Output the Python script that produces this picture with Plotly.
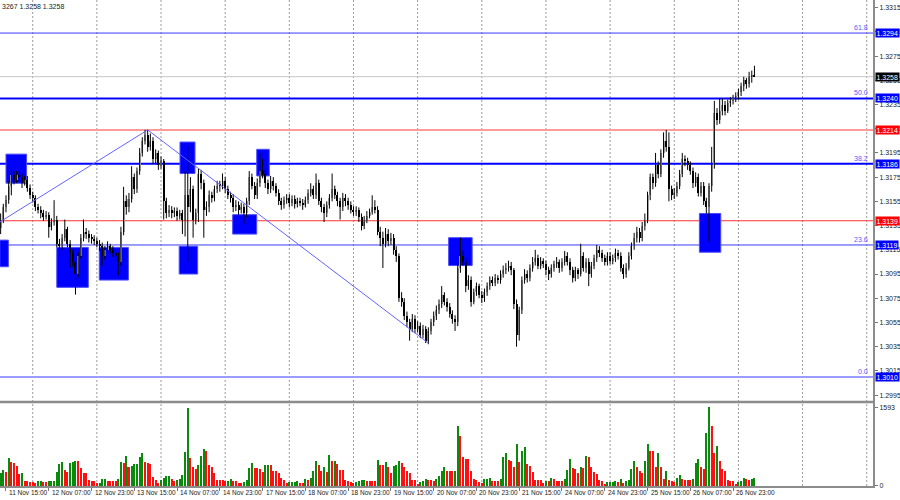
import plotly.graph_objects as go

# ---------------- data (H1 bars, first bar index -2, bar 0 = 11 Nov 15:00) ----------------
first_bar = -2

opens = [
 1.3133, 1.3140, 1.3150, 1.3156, 1.3168, 1.3177, 1.3173, 1.3177, 1.3175, 1.3170,
 1.3173, 1.3166, 1.3160, 1.3158, 1.3150, 1.3148, 1.3145, 1.3142, 1.3144, 1.3134,
 1.3138, 1.3140, 1.3120, 1.3118, 1.3125, 1.3132, 1.3120, 1.3112, 1.3105, 1.3095,
 1.3110, 1.3125, 1.3130, 1.3128, 1.3125, 1.3124, 1.3122, 1.3120, 1.3118, 1.3110,
 1.3115, 1.3118, 1.3115, 1.3112, 1.3110, 1.3105, 1.3130, 1.3155, 1.3150, 1.3157,
 1.3175, 1.3165, 1.3180, 1.3195, 1.3205, 1.3210, 1.3200, 1.3205, 1.3190, 1.3195,
 1.3185, 1.3188, 1.3155, 1.3145, 1.3148, 1.3145, 1.3147, 1.3143, 1.3145, 1.3140,
 1.3160, 1.3150, 1.3165, 1.3140, 1.3145, 1.3178, 1.3170, 1.3148, 1.3150, 1.3160,
 1.3158, 1.3165, 1.3168, 1.3168, 1.3172, 1.3165, 1.3160, 1.3158, 1.3150, 1.3152,
 1.3148, 1.3150, 1.3145, 1.3155, 1.3175, 1.3168, 1.3160, 1.3170, 1.3180, 1.3178,
 1.3170, 1.3165, 1.3172, 1.3168, 1.3162, 1.3155, 1.3152, 1.3156, 1.3158, 1.3154,
 1.3157, 1.3153, 1.3155, 1.3154, 1.3152, 1.3156, 1.3162, 1.3165, 1.3160, 1.3170,
 1.3155, 1.3150, 1.3145, 1.3152, 1.3158, 1.3165, 1.3160, 1.3155, 1.3150, 1.3158,
 1.3155, 1.3152, 1.3148, 1.3146, 1.3148, 1.3142, 1.3135, 1.3140, 1.3143, 1.3146,
 1.3150, 1.3148, 1.3130, 1.3125, 1.3120, 1.3128, 1.3122, 1.3125, 1.3115, 1.3110,
 1.3075, 1.3072, 1.3060, 1.3055, 1.3050, 1.3058, 1.3050, 1.3052, 1.3045, 1.3050,
 1.3040, 1.3048, 1.3055, 1.3060, 1.3065, 1.3070, 1.3078, 1.3072, 1.3068, 1.3062,
 1.3058, 1.3055, 1.3100, 1.3110, 1.3105, 1.3085, 1.3090, 1.3072, 1.3080, 1.3085,
 1.3078, 1.3075, 1.3080, 1.3085, 1.3090, 1.3088, 1.3092, 1.3090, 1.3095, 1.3098,
 1.3100, 1.3102, 1.3098, 1.3070, 1.3045, 1.3065, 1.3090, 1.3095, 1.3092, 1.3100,
 1.3105, 1.3108, 1.3102, 1.3106, 1.3103, 1.3098, 1.3095, 1.3100, 1.3103, 1.3105,
 1.3100, 1.3105, 1.3110, 1.3105, 1.3098, 1.3092, 1.3098, 1.3095, 1.3110, 1.3100,
 1.3105, 1.3095, 1.3102, 1.3108, 1.3115, 1.3112, 1.3108, 1.3105, 1.3110, 1.3106,
 1.3108, 1.3112, 1.3110, 1.3100, 1.3095, 1.3100, 1.3110, 1.3118, 1.3125, 1.3130,
 1.3125, 1.3135, 1.3140, 1.3160, 1.3175, 1.3170, 1.3185, 1.3178, 1.3195, 1.3205,
 1.3200, 1.3165, 1.3160, 1.3162, 1.3168, 1.3178, 1.3190, 1.3188, 1.3185, 1.3180,
 1.3170, 1.3175, 1.3162, 1.3168, 1.3155, 1.3150, 1.3168, 1.3185, 1.3228, 1.3222,
 1.3230, 1.3235, 1.3230, 1.3236, 1.3238, 1.3240, 1.3242, 1.3245, 1.3250, 1.3255,
 1.3252, 1.3258, 1.3259,
]

highs = [
 1.3145, 1.3153, 1.3160, 1.3172, 1.3183, 1.3180, 1.3180, 1.3180, 1.3178, 1.3176,
 1.3176, 1.3169, 1.3163, 1.3160, 1.3153, 1.3151, 1.3148, 1.3147, 1.3146, 1.3141,
 1.3156, 1.3143, 1.3124, 1.3128, 1.3140, 1.3134, 1.3123, 1.3115, 1.3108, 1.3113,
 1.3128, 1.3140, 1.3133, 1.3131, 1.3128, 1.3127, 1.3125, 1.3123, 1.3121, 1.3118,
 1.3122, 1.3120, 1.3118, 1.3115, 1.3113, 1.3134, 1.3167, 1.3160, 1.3162, 1.3184,
 1.3178, 1.3183, 1.3199, 1.3208, 1.3214, 1.3214, 1.3211, 1.3208, 1.3198, 1.3197,
 1.3192, 1.3190, 1.3158, 1.3152, 1.3151, 1.3150, 1.3150, 1.3148, 1.3148, 1.3180,
 1.3200, 1.3175, 1.3168, 1.3149, 1.3182, 1.3181, 1.3173, 1.3155, 1.3164, 1.3163,
 1.3168, 1.3172, 1.3172, 1.3178, 1.3175, 1.3168, 1.3163, 1.3161, 1.3156, 1.3155,
 1.3154, 1.3153, 1.3158, 1.3180, 1.3178, 1.3171, 1.3174, 1.3195, 1.3190, 1.3181,
 1.3173, 1.3176, 1.3175, 1.3170, 1.3165, 1.3158, 1.3159, 1.3161, 1.3161, 1.3160,
 1.3160, 1.3158, 1.3158, 1.3157, 1.3159, 1.3165, 1.3170, 1.3168, 1.3178, 1.3173,
 1.3158, 1.3153, 1.3155, 1.3161, 1.3178, 1.3168, 1.3163, 1.3158, 1.3162, 1.3161,
 1.3158, 1.3155, 1.3151, 1.3151, 1.3150, 1.3145, 1.3143, 1.3147, 1.3149, 1.3160,
 1.3156, 1.3151, 1.3134, 1.3130, 1.3133, 1.3132, 1.3129, 1.3128, 1.3118, 1.3112,
 1.3080, 1.3075, 1.3064, 1.3058, 1.3062, 1.3061, 1.3056, 1.3055, 1.3053, 1.3052,
 1.3051, 1.3058, 1.3064, 1.3069, 1.3074, 1.3085, 1.3080, 1.3075, 1.3071, 1.3065,
 1.3061, 1.3104, 1.3125, 1.3114, 1.3108, 1.3094, 1.3093, 1.3083, 1.3088, 1.3087,
 1.3081, 1.3083, 1.3088, 1.3093, 1.3093, 1.3095, 1.3094, 1.3098, 1.3102, 1.3104,
 1.3106, 1.3105, 1.3100, 1.3074, 1.3068, 1.3093, 1.3099, 1.3098, 1.3103, 1.3109,
 1.3115, 1.3111, 1.3109, 1.3108, 1.3106, 1.3101, 1.3103, 1.3106, 1.3109, 1.3107,
 1.3108, 1.3114, 1.3113, 1.3108, 1.3101, 1.3101, 1.3100, 1.3120, 1.3113, 1.3108,
 1.3108, 1.3105, 1.3111, 1.3119, 1.3118, 1.3115, 1.3111, 1.3113, 1.3113, 1.3111,
 1.3116, 1.3115, 1.3113, 1.3103, 1.3104, 1.3113, 1.3121, 1.3129, 1.3134, 1.3133,
 1.3138, 1.3145, 1.3163, 1.3178, 1.3178, 1.3195, 1.3188, 1.3198, 1.3212, 1.3214,
 1.3212, 1.3168, 1.3166, 1.3171, 1.3181, 1.3195, 1.3193, 1.3191, 1.3188, 1.3183,
 1.3179, 1.3178, 1.3171, 1.3171, 1.3158, 1.3170, 1.3200, 1.3238, 1.3232, 1.3240,
 1.3240, 1.3238, 1.3239, 1.3241, 1.3243, 1.3245, 1.3248, 1.3253, 1.3258, 1.3257,
 1.3262, 1.3263, 1.3267,
]

lows = [
 1.3128, 1.3137, 1.3146, 1.3153, 1.3160, 1.3169, 1.3170, 1.3171, 1.3166, 1.3168,
 1.3163, 1.3157, 1.3154, 1.3147, 1.3145, 1.3141, 1.3139, 1.3140, 1.3125, 1.3131,
 1.3135, 1.3117, 1.3110, 1.3115, 1.3122, 1.3117, 1.3100, 1.3101, 1.3078, 1.3092,
 1.3108, 1.3122, 1.3124, 1.3121, 1.3120, 1.3119, 1.3117, 1.3114, 1.3102, 1.3107,
 1.3112, 1.3112, 1.3109, 1.3106, 1.3094, 1.3102, 1.3127, 1.3144, 1.3146, 1.3154,
 1.3161, 1.3162, 1.3177, 1.3192, 1.3202, 1.3196, 1.3197, 1.3186, 1.3186, 1.3181,
 1.3182, 1.3140, 1.3141, 1.3142, 1.3141, 1.3142, 1.3139, 1.3140, 1.3128, 1.3126,
 1.3105, 1.3146, 1.3125, 1.3136, 1.3138, 1.3165, 1.3125, 1.3143, 1.3146, 1.3154,
 1.3155, 1.3162, 1.3163, 1.3165, 1.3162, 1.3157, 1.3154, 1.3146, 1.3147, 1.3144,
 1.3145, 1.3136, 1.3142, 1.3152, 1.3165, 1.3157, 1.3157, 1.3167, 1.3174, 1.3166,
 1.3161, 1.3162, 1.3164, 1.3159, 1.3152, 1.3148, 1.3149, 1.3153, 1.3150, 1.3151,
 1.3149, 1.3150, 1.3151, 1.3148, 1.3150, 1.3153, 1.3159, 1.3157, 1.3157, 1.3152,
 1.3146, 1.3138, 1.3142, 1.3149, 1.3155, 1.3157, 1.3151, 1.3140, 1.3147, 1.3151,
 1.3148, 1.3145, 1.3143, 1.3143, 1.3138, 1.3131, 1.3132, 1.3137, 1.3141, 1.3144,
 1.3145, 1.3127, 1.3118, 1.3100, 1.3117, 1.3118, 1.3119, 1.3111, 1.3105, 1.3072,
 1.3068, 1.3057, 1.3051, 1.3040, 1.3047, 1.3046, 1.3047, 1.3042, 1.3042, 1.3038,
 1.3037, 1.3045, 1.3052, 1.3057, 1.3062, 1.3067, 1.3069, 1.3064, 1.3059, 1.3054,
 1.3048, 1.3052, 1.3096, 1.3102, 1.3080, 1.3082, 1.3068, 1.3070, 1.3077, 1.3075,
 1.3071, 1.3072, 1.3077, 1.3082, 1.3085, 1.3085, 1.3087, 1.3087, 1.3092, 1.3095,
 1.3097, 1.3094, 1.3066, 1.3035, 1.3040, 1.3062, 1.3087, 1.3088, 1.3089, 1.3097,
 1.3102, 1.3099, 1.3099, 1.3100, 1.3094, 1.3090, 1.3092, 1.3097, 1.3100, 1.3096,
 1.3097, 1.3102, 1.3102, 1.3094, 1.3088, 1.3089, 1.3091, 1.3093, 1.3097, 1.3096,
 1.3085, 1.3092, 1.3099, 1.3105, 1.3109, 1.3105, 1.3102, 1.3102, 1.3103, 1.3103,
 1.3105, 1.3107, 1.3097, 1.3091, 1.3092, 1.3098, 1.3107, 1.3115, 1.3121, 1.3121,
 1.3122, 1.3131, 1.3137, 1.3156, 1.3165, 1.3167, 1.3174, 1.3175, 1.3191, 1.3196,
 1.3155, 1.3156, 1.3157, 1.3159, 1.3165, 1.3175, 1.3184, 1.3181, 1.3177, 1.3166,
 1.3167, 1.3159, 1.3159, 1.3152, 1.3145, 1.3122, 1.3163, 1.3182, 1.3218, 1.3219,
 1.3226, 1.3226, 1.3228, 1.3233, 1.3235, 1.3237, 1.3239, 1.3242, 1.3246, 1.3248,
 1.3249, 1.3253, 1.3258,
]

closes = [
 1.3140, 1.3150, 1.3156, 1.3168, 1.3177, 1.3173, 1.3177, 1.3175, 1.3170, 1.3173,
 1.3166, 1.3160, 1.3158, 1.3150, 1.3148, 1.3145, 1.3142, 1.3144, 1.3134, 1.3138,
 1.3140, 1.3120, 1.3118, 1.3125, 1.3132, 1.3120, 1.3112, 1.3105, 1.3095, 1.3110,
 1.3125, 1.3130, 1.3128, 1.3125, 1.3124, 1.3122, 1.3120, 1.3118, 1.3110, 1.3115,
 1.3118, 1.3115, 1.3112, 1.3110, 1.3105, 1.3130, 1.3155, 1.3150, 1.3157, 1.3175,
 1.3165, 1.3180, 1.3195, 1.3205, 1.3210, 1.3200, 1.3205, 1.3190, 1.3195, 1.3185,
 1.3188, 1.3155, 1.3145, 1.3148, 1.3145, 1.3147, 1.3143, 1.3145, 1.3140, 1.3160,
 1.3150, 1.3165, 1.3140, 1.3145, 1.3178, 1.3170, 1.3148, 1.3150, 1.3160, 1.3158,
 1.3165, 1.3168, 1.3168, 1.3172, 1.3165, 1.3160, 1.3158, 1.3150, 1.3152, 1.3148,
 1.3150, 1.3145, 1.3155, 1.3175, 1.3168, 1.3160, 1.3170, 1.3180, 1.3178, 1.3170,
 1.3165, 1.3172, 1.3168, 1.3162, 1.3155, 1.3152, 1.3156, 1.3158, 1.3154, 1.3157,
 1.3153, 1.3155, 1.3154, 1.3152, 1.3156, 1.3162, 1.3165, 1.3160, 1.3170, 1.3155,
 1.3150, 1.3145, 1.3152, 1.3158, 1.3165, 1.3160, 1.3155, 1.3150, 1.3158, 1.3155,
 1.3152, 1.3148, 1.3146, 1.3148, 1.3142, 1.3135, 1.3140, 1.3143, 1.3146, 1.3150,
 1.3148, 1.3130, 1.3125, 1.3120, 1.3128, 1.3122, 1.3125, 1.3115, 1.3110, 1.3075,
 1.3072, 1.3060, 1.3055, 1.3050, 1.3058, 1.3050, 1.3052, 1.3045, 1.3050, 1.3040,
 1.3048, 1.3055, 1.3060, 1.3065, 1.3070, 1.3078, 1.3072, 1.3068, 1.3062, 1.3058,
 1.3055, 1.3100, 1.3110, 1.3105, 1.3085, 1.3090, 1.3072, 1.3080, 1.3085, 1.3078,
 1.3075, 1.3080, 1.3085, 1.3090, 1.3088, 1.3092, 1.3090, 1.3095, 1.3098, 1.3100,
 1.3102, 1.3098, 1.3070, 1.3045, 1.3065, 1.3090, 1.3095, 1.3092, 1.3100, 1.3105,
 1.3108, 1.3102, 1.3106, 1.3103, 1.3098, 1.3095, 1.3100, 1.3103, 1.3105, 1.3100,
 1.3105, 1.3110, 1.3105, 1.3098, 1.3092, 1.3098, 1.3095, 1.3110, 1.3100, 1.3105,
 1.3095, 1.3102, 1.3108, 1.3115, 1.3112, 1.3108, 1.3105, 1.3110, 1.3106, 1.3108,
 1.3112, 1.3110, 1.3100, 1.3095, 1.3100, 1.3110, 1.3118, 1.3125, 1.3130, 1.3125,
 1.3135, 1.3140, 1.3160, 1.3175, 1.3170, 1.3185, 1.3178, 1.3195, 1.3205, 1.3200,
 1.3165, 1.3160, 1.3162, 1.3168, 1.3178, 1.3190, 1.3188, 1.3185, 1.3180, 1.3170,
 1.3175, 1.3162, 1.3168, 1.3155, 1.3150, 1.3168, 1.3185, 1.3228, 1.3222, 1.3230,
 1.3235, 1.3230, 1.3236, 1.3238, 1.3240, 1.3242, 1.3245, 1.3250, 1.3255, 1.3252,
 1.3258, 1.3259, 1.3258,
]

volumes = [
 257, 324, 290, 560, 479, 470, 412, 236, 270, 108,
 105, 81, 80, 68, 108, 110, 74, 72, 101, 103,
 108, 290, 446, 493, 324, 290, 459, 479, 513, 510,
 371, 270, 257, 122, 95, 94, 54, 68, 135, 149,
 108, 107, 106, 105, 149, 486, 473, 608, 392, 405,
 446, 448, 594, 662, 486, 459, 446, 176, 122, 68,
 122, 169, 203, 205, 135, 108, 122, 135, 223, 695,
 1585, 560, 392, 344, 425, 608, 743, 709, 432, 392,
 270, 122, 120, 118, 95, 108, 135, 95, 93, 68,
 54, 81, 122, 358, 459, 365, 362, 351, 290, 419,
 432, 430, 297, 295, 257, 155, 122, 68, 88, 89,
 90, 91, 68, 67, 149, 122, 162, 311, 513, 425,
 297, 378, 290, 621, 513, 515, 446, 324, 322, 122,
 108, 88, 54, 81, 95, 122, 123, 108, 107, 106,
 105, 527, 425, 423, 479, 392, 270, 405, 419, 506,
 473, 392, 311, 257, 122, 120, 41, 81, 108, 135,
 122, 120, 108, 135, 203, 304, 378, 304, 304,
 304, 306, 1215, 1013, 581, 554, 547, 304, 149, 122,
 88, 54, 135, 142, 155, 108, 107, 106, 135, 581,
 662, 527, 513, 392, 844, 493, 716, 797, 446, 405,
 284, 122, 120, 119, 68, 95, 94, 155, 135, 108,
 107, 106, 149, 324, 540, 358, 344, 270, 392, 365,
 608, 594, 378, 284, 243, 122, 95, 41, 81, 82,
 83, 95, 81, 135, 68, 108, 122, 351, 513, 378,
 311, 257, 513, 844, 716, 715, 392, 662, 378, 135,
 297, 122, 95, 81, 162, 223, 135, 122, 121, 120,
 149, 473, 540, 392, 338, 1080, 1593, 1215, 662, 810,
 513, 338, 311, 122, 108, 95, 41, 81, 108, 162,
 135, 122, 135, 155,
]

date_labels = ["11 Nov 15:00", "12 Nov 07:00", "12 Nov 23:00", "13 Nov 15:00",
               "14 Nov 07:00", "14 Nov 23:00", "17 Nov 15:00", "18 Nov 07:00",
               "18 Nov 23:00", "19 Nov 15:00", "20 Nov 07:00", "20 Nov 23:00",
               "21 Nov 15:00", "24 Nov 07:00", "24 Nov 23:00", "25 Nov 15:00",
               "26 Nov 07:00", "26 Nov 23:00"]
date_label_bars = [0, 16, 32, 48, 64, 80, 96, 112, 128, 144, 160, 176, 192, 208,
                   224, 240, 256, 272]

price_ticks = [1.2995, 1.3015, 1.3035, 1.3055, 1.3075, 1.3095, 1.3115, 1.3135, 1.3155,
               1.3175, 1.3195, 1.3215, 1.3235, 1.3255, 1.3275, 1.3295, 1.3315]

# horizontal levels: (price, line colour, width, fib label, box colour)
levels = [
    (1.3294, "#3a3aff", 1, "61.8", "#0000ff"),
    (1.3258, "#c8c8c8", 1, "", "#000000"),
    (1.3240, "#0000ff", 2, "50.0", "#0000ff"),
    (1.3214, "#ff9a9a", 2, "", "#ff0000"),
    (1.3186, "#0000ff", 2, "38.2", "#0000ff"),
    (1.3139, "#ff3030", 1, "", "#ff0000"),
    (1.3119, "#3a3aff", 1, "23.6", "#0000ff"),
    (1.3010, "#9a9aff", 2, "0.0", "#0000ff"),
]

# blue zones: (bar from, bar to, price low, price high)
zones = [
    (0.0, 7.7, 1.3170, 1.3194),
    (65.1, 70.7, 1.3178, 1.3204),
    (93.8, 98.5, 1.3176, 1.3198),
    (-2.3, 0.9, 1.3101, 1.3123),
    (19.0, 30.8, 1.3084, 1.3117),
    (34.9, 45.8, 1.3090, 1.3117),
    (64.8, 71.7, 1.3095, 1.3118),
    (84.8, 93.8, 1.3128, 1.3144),
    (165.6, 174.4, 1.3102, 1.3125),
    (259.4, 267.4, 1.3113, 1.3145),
]

zigzag_bars = [-2.3, 53.0, 158.0]
zigzag_prices = [1.3138, 1.3214, 1.3038]

# ---------------- build figure ----------------
n = len(closes)
bars = list(range(first_bar, first_bar + n))

wick_x, wick_y = [], []
for b, h, l in zip(bars, highs, lows):
    wick_x += [b, b, None]
    wick_y += [l, h, None]

body_base = [min(o, c) for o, c in zip(opens, closes)]
body_h = [max(abs(c - o), 0.00009) for o, c in zip(opens, closes)]
body_col = ["#a4a4a4" if c > o else "#000000" for o, c in zip(opens, closes)]

vol_col = []
for i, v in enumerate(volumes):
    vol_col.append("#0a8a0a" if (i == 0 or v > volumes[i - 1]) else "#ff1010")

fig = go.Figure()
fig.add_trace(go.Scatter(x=wick_x, y=wick_y, mode="lines",
                         line=dict(color="#000000", width=1), xaxis="x", yaxis="y",
                         hoverinfo="skip"))
fig.add_trace(go.Bar(x=bars, y=body_h, base=body_base, width=0.75,
                     marker=dict(color=body_col, line=dict(width=0)),
                     xaxis="x", yaxis="y", hoverinfo="skip"))
fig.add_trace(go.Scatter(x=zigzag_bars, y=zigzag_prices, mode="lines",
                         line=dict(color="#6464ff", width=1), xaxis="x", yaxis="y",
                         hoverinfo="skip"))
fig.add_trace(go.Bar(x=bars, y=volumes, width=0.75,
                     marker=dict(color=vol_col, line=dict(width=0)),
                     xaxis="x2", yaxis="y2", hoverinfo="skip"))

x_range = [-2.24, 324.35]
split = 0.1728
shapes = []
# vertical dotted grid
for g in range(10, 325, 24):
    shapes.append(dict(type="line", xref="x", yref="paper", x0=g, x1=g, y0=0, y1=1,
                       line=dict(color="#9a9a9a", width=1, dash="2px,2px"), layer="below"))
for (b0, b1, p0, p1) in zones:
    shapes.append(dict(type="rect", xref="x", yref="y", x0=b0, x1=b1, y0=p0, y1=p1,
                       fillcolor="#0000ff", line=dict(color="#4c4cff", width=1),
                       layer="between"))
for (p, col, w, lab, box) in levels:
    shapes.append(dict(type="line", xref="paper", yref="y", x0=0, x1=1, y0=p, y1=p,
                       line=dict(color=col, width=w), layer="between"))
# panel separator
shapes.append(dict(type="line", xref="paper", yref="paper", x0=0, x1=1, y0=split, y1=split,
                   line=dict(color="#8c8c8c", width=2.5)))

annotations = []
font_small = dict(family="Liberation Sans", size=7, color="#222222")
for (p, col, w, lab, box) in levels:
    annotations.append(dict(xref="paper", yref="y", x=1, y=p, xanchor="left", yanchor="middle",
                            xshift=2, text="%.4f" % p, showarrow=False, bgcolor=box,
                            borderpad=0.5,
                            font=dict(family="Liberation Sans", size=7, color="#ffffff")))
    if lab:
        annotations.append(dict(xref="paper", yref="y", x=0.9966, y=p, xanchor="right",
                                yanchor="bottom", text=lab, showarrow=False,
                                font=dict(family="Liberation Sans", size=7, color="#5a5aff")))
for b, t in zip(date_label_bars, date_labels):
    annotations.append(dict(xref="x2", yref="paper", x=b, y=0, xanchor="left", yanchor="top",
                            xshift=1, yshift=-1, text=t, showarrow=False,
                            font=dict(family="Liberation Sans", size=6.5, color="#222222")))
annotations.append(dict(xref="paper", yref="paper", x=0, y=1, xanchor="left", yanchor="top",
                        yshift=-1, text="3267 1.3258 1.3258", showarrow=False,
                        font=font_small))

fig.update_layout(
    width=900, height=500,
    margin=dict(l=0, r=27, t=0, b=14),
    paper_bgcolor="#ffffff", plot_bgcolor="#ffffff",
    showlegend=False, bargap=0, hovermode=False,
    shapes=shapes, annotations=annotations,
    xaxis=dict(domain=[0, 1], range=x_range, anchor="y", showgrid=False,
               showticklabels=False, zeroline=False, ticks=""),
    xaxis2=dict(domain=[0, 1], range=x_range, anchor="y2", matches="x", showgrid=False,
                zeroline=False, tickmode="array", tickvals=date_label_bars,
                showticklabels=False, ticks="outside", ticklen=3, tickcolor="#777777",
                showline=True, linecolor="#8c8c8c", linewidth=2),
    yaxis=dict(domain=[split, 1], range=[1.29893, 1.33213], side="right", anchor="x",
               showgrid=False, zeroline=False, tickmode="array", tickvals=price_ticks,
               tickformat=".4f", ticks="outside", ticklen=3, tickcolor="#777777",
               tickfont=font_small, showline=True, linecolor="#8c8c8c", linewidth=2,
               automargin=False),
    yaxis2=dict(domain=[0, split], range=[0, 1700], side="right", anchor="x2",
                showgrid=False, zeroline=False, tickmode="array", tickvals=[0, 1593],
                tickformat="d", ticks="outside", ticklen=3, tickcolor="#777777",
                tickfont=font_small, showline=True, linecolor="#8c8c8c", linewidth=2,
                automargin=False),
)

fig.write_html("out.html", config={"displayModeBar": False},
               post_script="document.body.style.margin='0';")
